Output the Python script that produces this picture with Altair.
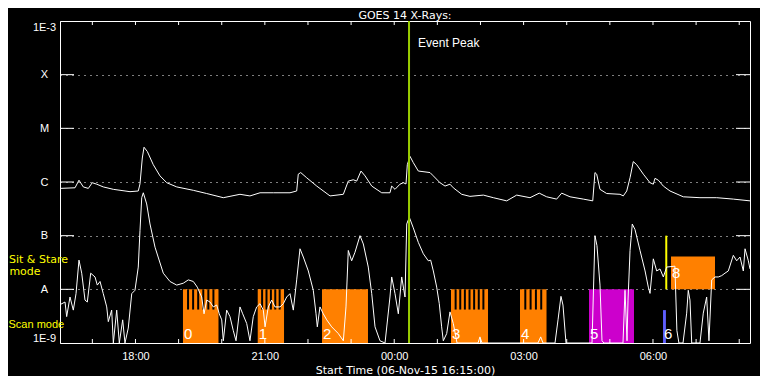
import altair as alt
import pandas as pd

# ---------------- data ----------------
# time axis: minutes since 06-Nov-15 16:15:00 ; flux in W/m^2
T_SPAN = 960  # 16:15 -> 08:15

long_t = [0, 20.9, 26.4, 32.4, 39.4, 44.9, 51.1, 60.2, 74.2, 97.4, 108.9, 111.3, 114.5, 116.9, 121.5,
          129.8, 139.1, 148.5, 162.4, 185.5, 204.1, 227.2, 250.4, 264.3, 278.3, 296.8, 320, 329.3, 331.5,
          334.9, 343.2, 357.2, 375.7, 394.2, 401.1, 408.1, 412.8, 418.8, 424.4, 433.7, 447.6, 459.1, 461.5,
          466.1, 473, 477.6, 481.4, 483.2, 487, 491.5, 498.5, 514.8, 519.4, 528.7, 535.7, 542.6, 547.2,
          558.9, 570.4, 589, 602.9, 621.5, 635.4, 653.9, 666.8, 677.1, 691, 698, 709.6, 728.1, 741.2,
          744.3, 746.7, 751.3, 760.6, 779.1, 783.7, 788.5, 793.1, 797.6, 802.4, 811.6, 820.9, 825.5,
          827.8, 832.5, 839.4, 848.7, 867.2, 890.4, 913.7, 936.8, 960]
long_f = [7.6e-7, 7.8e-7, 1.08e-6, 8.1e-7, 7.6e-7, 9.7e-7, 9.1e-7, 8.1e-7, 7.3e-7, 6.6e-7, 6.8e-7, 9.2e-7,
          2.8e-6, 4.45e-6, 3.7e-6, 2.1e-6, 1.3e-6, 9.7e-7, 8.1e-7, 7.0e-7, 6.1e-7, 5.1e-7, 5.9e-7, 5.5e-7,
          6.3e-7, 6.3e-7, 6.3e-7, 6.8e-7, 1.4e-6, 1.5e-6, 1.2e-6, 8.4e-7, 5.5e-7, 5.9e-7, 1.04e-6, 1.1e-6,
          1.04e-6, 1.6e-6, 1.3e-6, 8.4e-7, 6.3e-7, 6.3e-7, 8.4e-7, 7.3e-7, 9.1e-7, 9.7e-7, 9.2e-7, 2.1e-6,
          3.0e-6, 2.3e-6, 1.6e-6, 1.5e-6, 1.3e-6, 9.7e-7, 8.4e-7, 9.1e-7, 7.8e-7, 5.9e-7, 5.4e-7, 5.7e-7,
          5.1e-7, 4.45e-7, 5.7e-7, 5.1e-7, 6.2e-7, 5.3e-7, 4.8e-7, 6.2e-7, 5.3e-7, 4.8e-7, 4.45e-7, 1.5e-6,
          1.4e-6, 7.3e-7, 6.1e-7, 5.9e-7, 5.5e-7, 6.8e-7, 1.2e-6, 2.4e-6, 2.1e-6, 1.4e-6, 9.7e-7, 9.1e-7,
          1.17e-6, 1.08e-6, 8.4e-7, 6.8e-7, 5.3e-7, 5.1e-7, 5.1e-7, 4.8e-7, 4.45e-7]

short_t = [1.4, 7.0, 9.3, 13.9, 18.5, 22.3, 26.4, 30.2, 34.8, 38.0, 42.7, 48.7, 51.9, 55.7, 60.2, 65.0,
           67.2, 71.9, 74.2, 78.9, 82.5, 87.2, 90.4, 95.0, 99.8, 104.3, 108.9, 111.3, 113.7, 115.9, 120.6,
           125.2, 132.2, 143.7, 153.0, 162.4, 171.5, 178.5, 185.5, 191.0, 197.1, 200.4, 204.1, 208.7,
           213.3, 218.0, 221.6, 225.0, 227.2, 231.9, 236.5, 241.1, 244.9, 250.4, 254.2, 259.8, 264.3,
           268.9, 273.6, 278.3, 282.9, 285.3, 289.8, 294.5, 299.1, 306.1, 310.7, 315.4, 320.0, 324.6,
           329.3, 333.9, 338.5, 345.5, 352.4, 356.2, 358.0, 361.7, 366.3, 371.1, 378.0, 387.2, 394.2,
           397.9, 401.1, 405.8, 410.4, 417.4, 422.0, 428.9, 433.7, 438.3, 445.2, 452.2, 459.1, 461.5,
           466.1, 470.7, 475.4, 480.0, 482.4, 486.0, 491.5, 498.5, 505.5, 512.4, 515.7, 519.4, 524.1,
           527.7, 531.0, 533.3, 538.0, 542.6, 547.2, 552.4, 581.6, 584.3, 587.1, 665.0, 668.8, 672.0,
           688.7, 692.9, 697.0, 699.8, 704.0, 740.2, 744.3, 747.1, 751.3, 754.1, 756.8, 783.3, 786.1,
           788.9, 790.3, 793.1, 796.2, 800.0, 807.0, 814.0, 818.5, 820.9, 825.5, 830.2, 834.8, 839.4,
           844.1, 855.5, 858.3, 861.1, 866.8, 871.9, 874.1, 876.5, 878.9, 890.4, 895.0, 899.7, 902.9,
           906.7, 911.3, 915.9, 920.6, 925.2, 929.8, 936.8, 941.5, 946.1, 950.7, 953.1, 957.7, 960.0]
short_f = [5.3e-9, 5.8e-9, 3.1e-9, 7.2e-9, 4.1e-9, 8.3e-9, 3.5e-8, 2.0e-8, 6.3e-9, 5.8e-9, 2.0e-8, 1.7e-8,
           1.2e-8, 1.4e-8, 8.3e-9, 4.7e-9, 2.5e-9, 4.1e-9, 9e-10, 4.1e-9, 9e-10, 2.7e-9, 9e-10, 1.9e-9,
           8.3e-9, 9.6e-9, 2.6e-8, 1.24e-7, 5.1e-7, 6.3e-7, 3.9e-7, 1.65e-7, 6.1e-8, 2.0e-8, 1.4e-8,
           1.2e-8, 1.3e-8, 1.5e-8, 1.4e-8, 1.1e-8, 7.2e-9, 3.5e-9, 6.3e-9, 5.8e-9, 4.7e-9, 5.1e-9,
           3.5e-9, 2.7e-9, 1.1e-9, 4.1e-9, 3.1e-9, 1.7e-9, 1.1e-9, 4.7e-9, 3.5e-9, 2.3e-9, 1.1e-9,
           3.1e-9, 4.7e-9, 5.4e-9, 4.1e-9, 2.0e-9, 4.7e-9, 6.3e-9, 4.7e-9, 4.7e-9, 5.4e-9, 7.2e-9,
           8.3e-9, 4.1e-9, 1.5e-8, 5.7e-8, 4.0e-8, 2.2e-8, 9.6e-9, 3.5e-9, 2.0e-9, 4.7e-9, 3.5e-9,
           2.7e-9, 2.0e-9, 1.5e-9, 1.1e-9, 4.7e-9, 5.3e-8, 3.4e-8, 4.9e-8, 1.0e-7, 7.0e-8, 2.6e-8,
           8.3e-9, 2.0e-9, 1.1e-9, 8e-10, 7.2e-9, 1.7e-8, 8.3e-9, 3.5e-9, 1.7e-8, 7.2e-9, 1.65e-7,
           2.2e-7, 1.4e-7, 7.5e-8, 4.6e-8, 3.4e-8, 3.5e-8, 2.2e-8, 1.1e-8, 5.4e-9, 2.0e-9, 1.1e-9,
           1.5e-9, 3.8e-9, 2.3e-9, 8e-10, 8e-10, 1.3e-9, 8e-10, 8e-10, 1.3e-9, 8e-10, 8e-10, 2.7e-9,
           7.4e-9, 5.1e-9, 9e-10, 8e-10, 1.0e-7, 6.5e-8, 1.2e-8, 1.1e-9, 8e-10, 8e-10, 9.6e-9, 1.1e-9,
           6.3e-9, 5.3e-8, 1.65e-7, 1.3e-7, 5.3e-8, 2.2e-8, 1.1e-8, 8.4e-9, 3.7e-8, 2.2e-8, 2.4e-8,
           1.7e-8, 2.6e-8, 2.7e-8, 1.7e-9, 8e-10, 8e-10, 3.6e-9, 9.6e-9, 6.3e-9, 9e-10, 8e-10, 3.6e-9,
           7.2e-9, 1.1e-9, 1.5e-8, 1.7e-8, 1.7e-8, 1.8e-8, 2.0e-8, 2.2e-8, 4.3e-8, 3.4e-8, 4.0e-8,
           2.2e-8, 5.7e-8, 3.4e-8, 2.4e-8]

# observation blocks (IRIS-like scan / sit&stare runs)
blk_id = ["0", "1", "2", "3", "4", "5", "6", "8"]
blk_start = [171.1, 275.1, 364.5, 544.0, 640.0, 736.0, 839.0, 850.1]
blk_end = [220.5, 311.7, 428.5, 595.5, 676.9, 798.6, 843.0, 911.3]
blk_lo = [1e-9, 1e-9, 1e-9, 1e-9, 1e-9, 1e-9, 1e-9, 1e-8]
blk_hi = [1e-8, 1e-8, 1e-8, 1e-8, 1e-8, 1e-8, 4.1e-9, 4.1e-8]
blk_color = ["#ff8000", "#ff8000", "#ff8000", "#ff8000", "#ff8000", "#cc00cc", "#5f5fff", "#ff8000"]
blk_steps = [7, 6, 0, 8, 5, 0, 0, 0]      # raster steps drawn as teeth
STEP_FLOOR = 4.2e-9                       # bottom of the tooth gaps

stare_t = [843.5]                         # short sit & stare run (yellow)
stare_lo = [1e-8]
stare_hi = [1e-7]

event_t = [485.6]                         # event peak 00:21

level_vals = [1e-9, 1e-8, 1e-7, 1e-6, 1e-5, 1e-4, 1e-3]
level_labels = ["1E-9", "A", "B", "C", "M", "X", "1E-3"]
x_label_vals = [105, 285, 465, 645, 825]          # 18:00 ... 06:00
hour_ticks = [45 + 60 * i for i in range(16)]     # 17:00 ... 08:00

# ---------------- tables ----------------
long_df = pd.DataFrame({"t": long_t, "f": long_f})
short_df = pd.DataFrame({"t": short_t, "f": short_f})
blk_df = pd.DataFrame({"id": blk_id, "t0": blk_start, "t1": blk_end, "lo": blk_lo,
                       "hi": blk_hi, "c": blk_color, "n": blk_steps})
gap_rows = []
for s, e, n in zip(blk_start, blk_end, blk_steps):
    for i in range(1, n):
        gap_rows.append({"t": s + (e - s) * i / n, "lo": STEP_FLOOR, "hi": 1e-8})
gap_df = pd.DataFrame(gap_rows)
lev_df = pd.DataFrame({"v": level_vals[1:-1]})
hour_df = pd.DataFrame({"t": hour_ticks})
stare_df = pd.DataFrame({"t": stare_t, "lo": stare_lo, "hi": stare_hi})
event_df = pd.DataFrame({"t": event_t, "lo": [1e-9], "hi": [1e-3]})

FONT = "Liberation Sans"
WFONT = "DejaVu Sans"
W, H = 690, 322

xs = alt.Scale(domain=[0, T_SPAN], nice=False, zero=False)
ys = alt.Scale(type="log", domain=[1e-9, 1e-3], clamp=True, nice=False)

label_expr = "['1E-9','A','B','C','M','X','1E-3'][round(log(datum.value)/LN10)+9]"
xlabel_expr = "pad(floor(((datum.value + 975) % 1440) / 60), 2, '0', 'left') + ':00'"

base_axes = alt.Chart(long_df).mark_line(color="white", strokeWidth=1).encode(
    x=alt.X("t:Q", scale=xs, axis=alt.Axis(
        values=x_label_vals, labelExpr=xlabel_expr, ticks=False, tickSize=0, domain=False,
        grid=False, labelColor="white", labelFont=FONT, labelFontSize=11, labelPadding=7,
        title="Start Time (06-Nov-15 16:15:00)", titleColor="white", titleFont=WFONT,
        titleFontSize=11, titleFontWeight="normal", titlePadding=3)),
    y=alt.Y("f:Q", scale=ys, axis=alt.Axis(
        values=level_vals, labelExpr=label_expr, ticks=False, tickSize=0, domain=False,
        grid=True, gridColor="white", gridDash=[1, 5], gridWidth=1, gridOpacity=1,
        labelColor="white", labelFont=FONT, labelFontSize=11, labelAlign="center",
        labelPadding=16, labelFlush=True, title=None)),
)

blocks = alt.Chart(blk_df).mark_rect().encode(
    x=alt.X("t0:Q", scale=xs), x2="t1:Q",
    y=alt.Y("lo:Q", scale=ys), y2="hi:Q",
    color=alt.Color("c:N", scale=None),
)
gaps = alt.Chart(gap_df).mark_rule(color="black", strokeWidth=2).encode(
    x=alt.X("t:Q", scale=xs), y=alt.Y("lo:Q", scale=ys), y2="hi:Q")
stare = alt.Chart(stare_df).mark_rule(color="#ffff00", strokeWidth=2).encode(
    x=alt.X("t:Q", scale=xs), y=alt.Y("lo:Q", scale=ys), y2="hi:Q")

short_line = alt.Chart(short_df).mark_line(color="white", strokeWidth=1).encode(
    x=alt.X("t:Q", scale=xs), y=alt.Y("f:Q", scale=ys))

event = alt.Chart(event_df).mark_rule(color="#99cc00", strokeWidth=2).encode(
    x=alt.X("t:Q", scale=xs), y=alt.Y("lo:Q", scale=ys), y2="hi:Q")
event_txt = alt.Chart(event_df).mark_text(
    text="Event Peak", color="white", font=FONT, fontSize=12, align="left",
    baseline="middle", dx=9).encode(x=alt.X("t:Q", scale=xs), y=alt.value(22))

num_bottom = alt.Chart(blk_df[blk_df["lo"] <= 1e-9]).mark_text(
    color="white", font=FONT, fontSize=15, align="left", baseline="alphabetic", dx=1, dy=-4
).encode(x=alt.X("t0:Q", scale=xs), y=alt.Y("lo:Q", scale=ys), text="id:N")
num_mid = alt.Chart(blk_df[blk_df["lo"] > 1e-9]).mark_text(
    color="white", font=FONT, fontSize=15, align="left", baseline="alphabetic", dx=1, dy=-11
).encode(x=alt.X("t0:Q", scale=xs), y=alt.Y("lo:Q", scale=ys), text="id:N")

ltick = alt.Chart(lev_df).mark_rule(color="white", strokeWidth=1).encode(
    x=alt.value(0), x2=alt.value(14), y=alt.Y("v:Q", scale=ys))
rtick = alt.Chart(lev_df).mark_rule(color="white", strokeWidth=1).encode(
    x=alt.value(W - 14), x2=alt.value(W), y=alt.Y("v:Q", scale=ys))
ttick = alt.Chart(hour_df).mark_rule(color="white", strokeWidth=1).encode(
    x=alt.X("t:Q", scale=xs), y=alt.value(0), y2=alt.value(4))
btick = alt.Chart(hour_df).mark_rule(color="white", strokeWidth=1).encode(
    x=alt.X("t:Q", scale=xs), y=alt.value(H - 4), y2=alt.value(H))

title_txt = alt.Chart(pd.DataFrame({"s": ["GOES 14 X-Rays:"]})).mark_text(
    color="white", font=WFONT, fontSize=11, align="center", baseline="alphabetic").encode(
    x=alt.value(W / 2), y=alt.value(-2), text="s:N")

side_df = pd.DataFrame({"txt": ["Sit & Stare", "mode", "Scan mode"],
                        "px": [-21.5, -35, -51.5], "py": [242, 254, 307]})
side1 = alt.Chart(side_df.iloc[:2]).mark_text(
    color="#ffff00", font=WFONT, fontSize=11, align="center", baseline="alphabetic").encode(
    x=alt.X("px:Q", scale=None), y=alt.Y("py:Q", scale=None), text="txt:N")
side2 = alt.Chart(side_df.iloc[2:]).mark_text(
    color="#ffff00", font=FONT, fontSize=11, align="left", baseline="alphabetic").encode(
    x=alt.X("px:Q", scale=None), y=alt.Y("py:Q", scale=None), text="txt:N")

chart = alt.layer(
    base_axes.mark_line(opacity=0),
    blocks, gaps, stare, short_line, base_axes, event, event_txt,
    num_bottom, num_mid, ltick, rtick, ttick, btick, title_txt, side1, side2,
).properties(
    width=W, height=H,
    padding={"left": 52, "top": 13, "right": 10, "bottom": 33},
    autosize=alt.AutoSizeParams(type="none"),
).configure(background="black").configure_view(stroke="white", strokeWidth=1)

chart.save("out.html", embed_options={"renderer": "svg", "actions": False})
